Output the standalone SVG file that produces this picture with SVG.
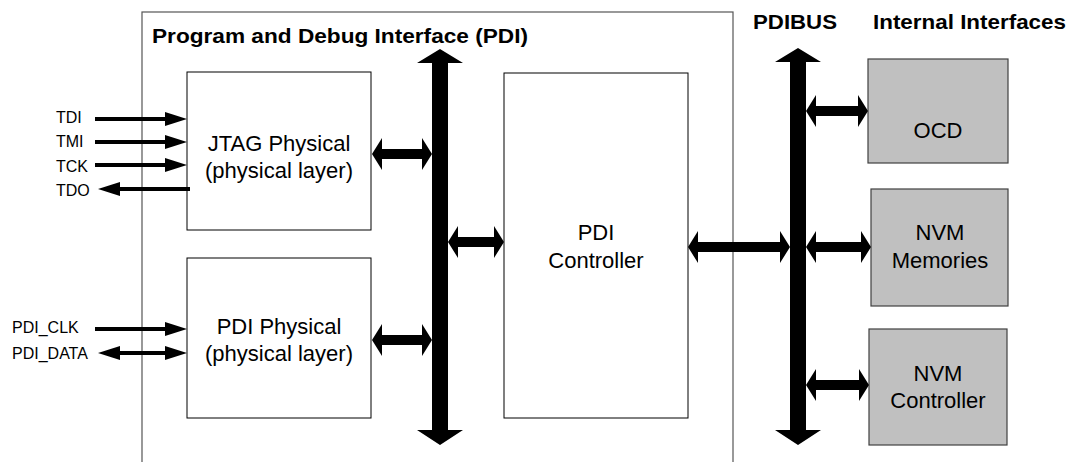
<svg xmlns="http://www.w3.org/2000/svg" width="1069" height="462" viewBox="0 0 1069 462">
<style>
.box{fill:#fff;stroke:#000;stroke-width:1}
.gbox{fill:#c0c0c0;stroke:#404040;stroke-width:1.2}
.t{font-family:"Liberation Sans",Arial,sans-serif;font-size:22px;fill:#000;text-anchor:middle}
.s{font-family:"Liberation Sans",Arial,sans-serif;font-size:16px;fill:#000}
.h{font-family:"Liberation Sans",Arial,sans-serif;font-size:21px;font-weight:bold;fill:#000}
.big{fill:#000}
.sig{stroke:#000;stroke-width:4;fill:none}
</style>
<defs>
<marker id="ah" markerUnits="userSpaceOnUse" markerWidth="22" markerHeight="14" refX="0" refY="7" orient="auto-start-reverse">
<path d="M0,0 L22,7 L0,14 z" fill="#000"/>
</marker>
</defs>
<rect x="142" y="12" width="591" height="470" fill="none" stroke="#555" stroke-width="1.2"/>
<text class="h" x="152" y="43" textLength="376" lengthAdjust="spacingAndGlyphs">Program and Debug Interface (PDI)</text>
<text class="h" x="753" y="29" textLength="84" lengthAdjust="spacingAndGlyphs">PDIBUS</text>
<text class="h" x="873" y="29" textLength="193" lengthAdjust="spacingAndGlyphs">Internal Interfaces</text>

<g id="jtag">
<rect class="box" x="187" y="72" width="184" height="158"/>
<text class="t" x="279" y="151">JTAG Physical</text>
<text class="t" x="279" y="178">(physical layer)</text>
</g>
<g id="pdiphy">
<rect class="box" x="187" y="258" width="184" height="160"/>
<text class="t" x="279" y="334">PDI Physical</text>
<text class="t" x="279" y="361">(physical layer)</text>
</g>
<g id="pdictrl">
<rect class="box" x="504" y="73" width="184" height="345"/>
<text class="t" x="596" y="240">PDI</text>
<text class="t" x="596" y="268">Controller</text>
</g>
<g id="ocd">
<rect class="gbox" x="868" y="59" width="140" height="104"/>
<text class="t" x="938" y="138">OCD</text>
</g>
<g id="nvmmem">
<rect class="gbox" x="871" y="189" width="137" height="117"/>
<text class="t" x="940" y="240">NVM</text>
<text class="t" x="940" y="268">Memories</text>
</g>
<g id="nvmctrl">
<rect class="gbox" x="869" y="329" width="138" height="116"/>
<text class="t" x="938" y="381">NVM</text>
<text class="t" x="938" y="408">Controller</text>
</g>

<g id="signals">
<text class="s" x="56" y="123">TDI</text>
<text class="s" x="56" y="147">TMI</text>
<text class="s" x="56" y="172">TCK</text>
<text class="s" x="56" y="196">TDO</text>
<text class="s" x="12" y="333">PDI_CLK</text>
<text class="s" x="12" y="359">PDI_DATA</text>
</g>

<g id="connectors">
<line class="sig" x1="95" y1="119" x2="165" y2="119" marker-end="url(#ah)"/>
<line class="sig" x1="95" y1="142" x2="165" y2="142" marker-end="url(#ah)"/>
<line class="sig" x1="95" y1="165" x2="165" y2="165" marker-end="url(#ah)"/>
<line class="sig" x1="190" y1="189" x2="120" y2="189" marker-end="url(#ah)"/>
<line class="sig" x1="95" y1="329" x2="165" y2="329" marker-end="url(#ah)"/>
<line class="sig" x1="120" y1="353" x2="165" y2="353" marker-start="url(#ah)" marker-end="url(#ah)"/>

<polygon class="big" points="440,49 463,63 448,63 448,430 463,430 440,445 417,430 432,430 432,63 417,63"/>
<polygon class="big" points="798,48 821,62 806,62 806,430 821,430 798,445 775,430 790,430 790,62 775,62"/>

<polygon class="big" points="372,154 382,138 382,149 422,149 422,138 432,154 422,170 422,159 382,159 382,170"/>
<polygon class="big" points="372,340 382,324 382,335 422,335 422,324 432,340 422,356 422,345 382,345 382,356"/>
<polygon class="big" points="448,242 458,226 458,237 494,237 494,226 504,242 494,258 494,247 458,247 458,258"/>
<polygon class="big" points="688,247 698,231 698,242 780,242 780,231 790,247 780,263 780,252 698,252 698,263"/>
<polygon class="big" points="806,111 816,95 816,106 858,106 858,95 868,111 858,127 858,116 816,116 816,127"/>
<polygon class="big" points="806,247 816,231 816,242 861,242 861,231 871,247 861,263 861,252 816,252 816,263"/>
<polygon class="big" points="806,385 816,369 816,380 859,380 859,369 869,385 859,401 859,390 816,390 816,401"/>
</g>
</svg>
